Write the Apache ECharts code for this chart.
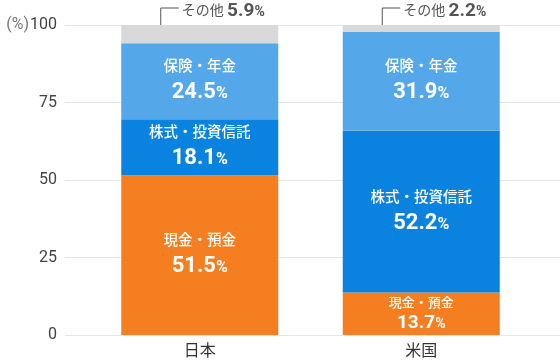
<!DOCTYPE html>
<html>
<head>
<meta charset="utf-8">
<script src="https://cdn.jsdelivr.net/npm/echarts@6/dist/echarts.min.js"></script>
<style>
  html, body { margin: 0; padding: 0; background: #fff; }
  #chart { width: 560px; height: 363px; }
</style>
</head>
<body>
<div id="chart"></div>
<script>
const categories = ['日本', '米国'];
const seriesNames = ['現金・預金', '株式・投資信託', '保険・年金', 'その他'];
const cashDeposits = [51.5, 13.7];
const stocksFunds = [18.1, 52.2];
const insurancePension = [24.5, 31.9];
const others = [5.9, 2.2];
const yTicks = [0, 25, 50, 75, 100];

const colors = ['#F57E20', '#0A83E0', '#54A8EA', '#D9D9D9'];
const FONT = 'Roboto, "Noto Sans CJK JP", sans-serif';

const chart = echarts.init(document.getElementById('chart'), null, { renderer: 'canvas' });

function innerLabel(small) {
  return {
    show: true,
    position: 'inside',
    fontFamily: FONT,
    formatter: p => '{n|' + p.seriesName + '}\n{v|' + p.value.toFixed(1) + '}{p|%}',
    rich: {
      n: { color: '#fff', fontSize: small ? 13 : 14.5, fontWeight: 500, fontFamily: FONT, lineHeight: small ? 18 : 23, align: 'center' },
      v: { color: '#fff', fontSize: small ? 19 : 22, fontWeight: 'bold', fontFamily: FONT, lineHeight: small ? 21 : 27 },
      p: { color: '#fff', fontSize: small ? 14 : 16, fontWeight: 'bold', fontFamily: FONT, lineHeight: small ? 21 : 27, padding: [3, 0, 0, 0] }
    }
  };
}

function barData(arr, smallIdx) {
  return arr.map((v, i) => ({ value: v, label: innerLabel(smallIdx === i) }));
}

const option = {
  animation: false,
  textStyle: { fontFamily: FONT },
  grid: [
    { left: 65, right: 0, top: 25, bottom: 28 },
    { left: 89, right: 28, top: 25, bottom: 28 }
  ],
  xAxis: [
    { gridIndex: 0, type: 'value', show: false, min: 0, max: 1 },
    {
      gridIndex: 1, type: 'category', data: categories,
      axisLine: { show: false }, axisTick: { show: false },
      axisLabel: { color: '#333', fontSize: 16, margin: 9, fontFamily: FONT }
    }
  ],
  yAxis: [
    {
      gridIndex: 0, type: 'value', min: yTicks[0], max: yTicks[yTicks.length - 1], interval: 25,
      axisLine: { show: false }, axisTick: { show: false },
      splitLine: { lineStyle: { color: '#e6e6e6', width: 1 } },
      axisLabel: {
        color: '#444', fontSize: 16, margin: 8, fontFamily: FONT,
        formatter: v => v === 100 ? '{u|(%)}{d|' + v + '}' : '{d|' + v + '}',
        rich: {
          u: { color: '#777', fontSize: 16, fontFamily: FONT, padding: [0, 1, 0, 0] },
          d: { color: '#444', fontSize: 16, fontFamily: FONT }
        }
      }
    },
    { gridIndex: 1, type: 'value', min: 0, max: 100, show: false }
  ],
  series: [
    { name: seriesNames[0], type: 'bar', stack: 'total', xAxisIndex: 1, yAxisIndex: 1, barWidth: 157,
      itemStyle: { color: colors[0] }, data: barData(cashDeposits, 1) },
    { name: seriesNames[1], type: 'bar', stack: 'total', xAxisIndex: 1, yAxisIndex: 1, barWidth: 157,
      itemStyle: { color: colors[1] }, data: barData(stocksFunds, -1) },
    { name: seriesNames[2], type: 'bar', stack: 'total', xAxisIndex: 1, yAxisIndex: 1, barWidth: 157,
      itemStyle: { color: colors[2] }, data: barData(insurancePension, -1) },
    { name: seriesNames[3], type: 'bar', stack: 'total', xAxisIndex: 1, yAxisIndex: 1, barWidth: 157,
      itemStyle: { color: colors[3] }, data: others },
    {
      name: 'annotation', type: 'custom', xAxisIndex: 1, yAxisIndex: 1, silent: true,
      data: others.map((v, i) => [i, v]),
      renderItem: (params, api) => {
        const idx = api.value(0);
        const val = api.value(1);
        const top = api.coord([idx, 100]);
        const x0 = top[0] - 39;
        const y0 = top[1] + 4.5;
        const yl = top[1] - 17;
        return {
          type: 'group',
          children: [
            { type: 'polyline', shape: { points: [[x0, y0], [x0, yl], [x0 + 18, yl]] },
              style: { stroke: '#555', lineWidth: 1, fill: null } },
            { type: 'circle', shape: { cx: x0, cy: y0, r: 2 }, style: { fill: '#555' } },
            { type: 'text', x: x0 + 21, y: top[1] - 14,
              style: {
                text: '{n|' + seriesNames[3] + '} {v|' + val.toFixed(1) + '}{p|%}',
                verticalAlign: 'middle', align: 'left',
                rich: {
                  n: { fill: '#555', fontSize: 14, fontFamily: FONT },
                  v: { fill: '#555', fontSize: 19, fontWeight: 'bold', fontFamily: FONT },
                  p: { fill: '#555', fontSize: 14, fontWeight: 'bold', fontFamily: FONT, padding: [3, 0, 0, 0] }
                }
              } }
          ]
        };
      }
    }
  ]
};

chart.setOption(option);
</script>
</body>
</html>
